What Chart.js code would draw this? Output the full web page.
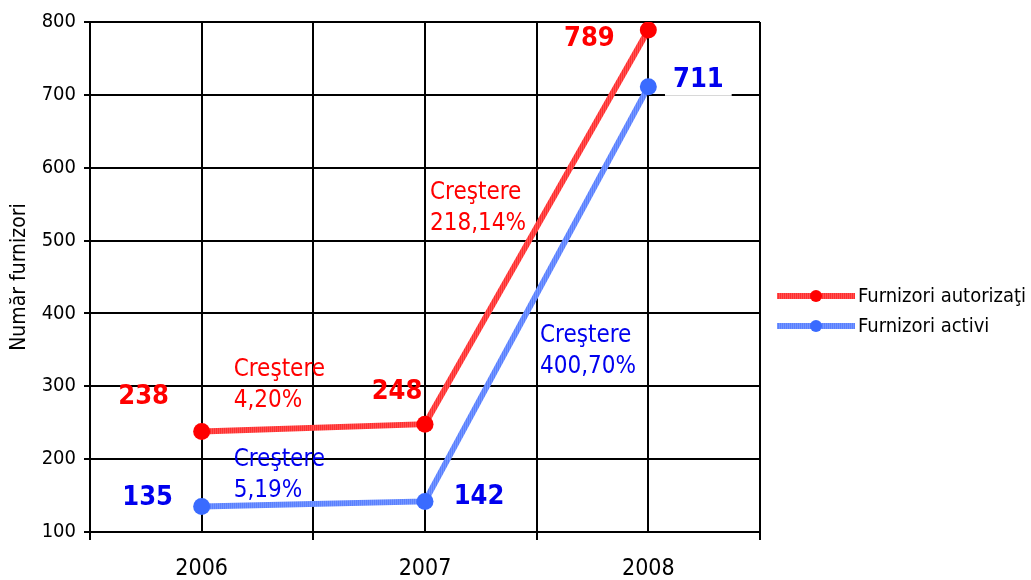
<!DOCTYPE html>
<html>
<head>
<meta charset="utf-8">
<script src="https://cdn.jsdelivr.net/npm/chart.js@4.4.1/dist/chart.umd.min.js"></script>
<style>
  html, body { margin: 0; padding: 0; background: #fff; }
  canvas { display: block; }
</style>
</head>
<body>
<canvas id="c" width="1031" height="580"></canvas>
<script>
const categories = ['2006', '2007', '2008'];
const authorized = [238, 248, 789];
const active = [135, 142, 711];
const seriesNames = ['Furnizori autorizaţi', 'Furnizori activi'];
const yMin = 100, yMax = 800, yStep = 100;
const yTitle = 'Număr furnizori';
const growthWord = 'Creştere';
const growthAuthorized = ['4,20%', '218,14%'];
const growthActive = ['5,19%', '400,70%'];

const FONT = '"DejaVu Sans Condensed", "DejaVu Sans", sans-serif';
const RED = '#ff0000';
const BLUE = '#0000ee', BLUE_PT = '#3a6bff';

function stripe(c1, c2) {
  const p = document.createElement('canvas');
  p.width = 2; p.height = 2;
  const g = p.getContext('2d');
  g.fillStyle = c1; g.fillRect(0, 0, 1, 2);
  g.fillStyle = c2; g.fillRect(1, 0, 1, 2);
  return document.getElementById('c').getContext('2d').createPattern(p, 'repeat');
}
const RED_LINE = stripe('#ff2f2f', '#ff5252');
const BLUE_LINE = stripe('#5a80ff', '#7496ff');

// value label offsets (style only)
const offA = [[-58, -34], [-28, -32], [-59, 9]];
const offB = [[-54, -9], [54, -4], [50, -7]];

// growth annotations: anchored near categories at a value height
const notes = [
  { lines: [growthWord, growthAuthorized[0]], color: RED, idx: 0, dx: 32, val: 322 },
  { lines: [growthWord, growthActive[0]], color: BLUE, idx: 0, dx: 32, val: 199 },
  { lines: [growthWord, growthAuthorized[1]], color: RED, idx: 1, dx: 5, val: 565 },
  { lines: [growthWord, growthActive[1]], color: BLUE, idx: 1, dx: 115, val: 369 }
];

const centerGrid = {
  id: 'centerGrid',
  beforeDatasetsDraw(chart) {
    const { ctx, chartArea: a, scales: { x } } = chart;
    ctx.save();
    ctx.strokeStyle = '#000';
    ctx.lineWidth = 2;
    categories.forEach((c, i) => {
      const px = Math.round(x.getPixelForValue(i));
      ctx.beginPath();
      ctx.moveTo(px, a.top);
      ctx.lineTo(px, a.bottom);
      ctx.stroke();
    });
    ctx.restore();
  }
};

const labelsPlugin = {
  id: 'labelsPlugin',
  afterDatasetsDraw(chart) {
    const { ctx, scales: { x, y } } = chart;
    ctx.save();
    ctx.font = '24px ' + FONT;
    ctx.textAlign = 'left';
    ctx.textBaseline = 'middle';
    notes.forEach(n => {
      const px = x.getPixelForValue(n.idx) + n.dx;
      const py = y.getPixelForValue(n.val);
      ctx.fillStyle = n.color;
      n.lines.forEach((t, k) => ctx.fillText(t, px, py + k * 31));
    });
    ctx.font = 'bold 27px ' + FONT;
    ctx.textAlign = 'center';
    const drawVals = (dsIndex, vals, offs, color, bg) => {
      const meta = chart.getDatasetMeta(dsIndex);
      vals.forEach((v, i) => {
        const p = meta.data[i];
        const tx = p.x + offs[i][0], ty = p.y + offs[i][1];
        const txt = String(v);
        if (bg[i]) {
          const w = ctx.measureText(txt).width;
          ctx.fillStyle = '#fff';
          ctx.fillRect(tx - w / 2 - 8, ty - 16, w + 16, 32);
        }
        ctx.fillStyle = color;
        ctx.fillText(txt, tx, ty);
      });
    };
    drawVals(0, authorized, offA, RED, [false, false, false]);
    drawVals(1, active, offB, BLUE, [false, false, true]);
    ctx.restore();
  },
  afterDraw(chart) {
    const { ctx } = chart;
    ctx.save();
    const items = [
      { name: seriesNames[0], line: RED_LINE, pt: RED, y: 296 },
      { name: seriesNames[1], line: BLUE_LINE, pt: BLUE_PT, y: 326 }
    ];
    items.forEach(it => {
      ctx.strokeStyle = it.line;
      ctx.lineWidth = 6;
      ctx.beginPath();
      ctx.moveTo(777, it.y);
      ctx.lineTo(855, it.y);
      ctx.stroke();
      ctx.fillStyle = it.pt;
      ctx.beginPath();
      ctx.arc(816, it.y, 6, 0, Math.PI * 2);
      ctx.fill();
      ctx.fillStyle = '#000';
      ctx.font = '20px ' + FONT;
      ctx.textAlign = 'left';
      ctx.textBaseline = 'middle';
      ctx.fillText(it.name, 858, it.y + 1);
    });
    ctx.restore();
  }
};

new Chart(document.getElementById('c'), {
  type: 'line',
  data: {
    labels: categories,
    datasets: [
      {
        label: seriesNames[0], data: authorized,
        borderColor: RED_LINE, borderWidth: 6,
        pointBackgroundColor: RED, pointBorderWidth: 0, pointRadius: 8.5,
        tension: 0
      },
      {
        label: seriesNames[1], data: active,
        borderColor: BLUE_LINE, borderWidth: 6,
        pointBackgroundColor: BLUE_PT, pointBorderWidth: 0, pointRadius: 8.5,
        tension: 0
      }
    ]
  },
  options: {
    responsive: false,
    animation: false,
    devicePixelRatio: 1,
    layout: { padding: { left: 0, right: 271, top: 22, bottom: 0 } },
    plugins: { legend: { display: false }, tooltip: { enabled: false } },
    scales: {
      x: {
        type: 'category',
        offset: true,
        grid: { offset: true, color: '#000', lineWidth: 2, tickLength: 8, tickColor: '#000' },
        border: { color: '#000', width: 2 },
        ticks: { color: '#000', font: { family: FONT, size: 23 }, padding: 15 },
        afterFit(s) { s.height = 48; }
      },
      y: {
        min: yMin, max: yMax,
        grid: { color: '#000', lineWidth: 2, tickLength: 6, tickColor: '#000' },
        border: { color: '#000', width: 2 },
        ticks: { stepSize: yStep, color: '#000', font: { family: FONT, size: 20 }, padding: 8 },
        title: { display: true, text: yTitle, color: '#000', font: { family: FONT, size: 21 }, padding: { top: 7, bottom: 0 } },
        afterFit(s) { s.width = 90; }
      }
    }
  },
  plugins: [centerGrid, labelsPlugin]
});
</script>
</body>
</html>
